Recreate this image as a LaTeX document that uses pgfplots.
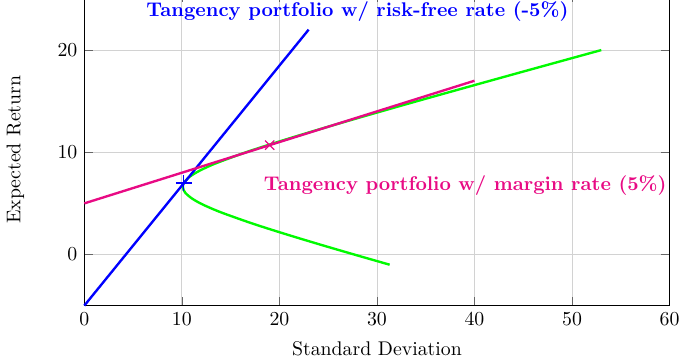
\documentclass[border=0pt]{standalone}
\usepackage{pgfplots}
\pgfplotsset{compat=1.18}
\definecolor{myblue}{RGB}{0,0,255}
\definecolor{mygreen}{RGB}{0,250,0}
\definecolor{mymag}{RGB}{232,10,132}
\begin{document}
\begin{tikzpicture}
\begin{axis}[
  width=295.7pt, height=157.5pt, scale only axis,
  xmin=0, xmax=60, ymin=-5, ymax=25.5,
  xtick={0,10,...,60}, ytick={0,10,20},
  grid=major, major grid style={gray!35},
  xlabel={Standard Deviation}, ylabel={Expected Return},
  ylabel style={yshift=10pt},
  xlabel style={yshift=-1.5pt},
  axis line style={black}, tick style={black!60},
  clip=false,
]
\addplot[mygreen, very thick, smooth] coordinates {
(31.30,-1) (27.65,0) (24.07,1) (20.61,2) (17.32,3) (14.35,4) (13.04,4.5) (11.90,5) (11.00,5.5) (10.38,6) (10.18,6.3) (10.10,6.62) (10.21,7) (10.66,7.5) (11.44,8) (12.47,8.5) (13.70,9) (16.57,10) (19.80,11) (23.23,12) (26.78,13) (30.42,14) (34.11,15) (37.85,16) (41.61,17) (45.39,18) (49.19,19) (53.00,20)
};
\addplot[myblue, very thick] coordinates {(0,-5) (23,22)};
\addplot[mymag, very thick] coordinates {(0,5) (40,17)};
\addplot[myblue, only marks, mark=+, mark size=4pt, semithick] coordinates {(10.2,7.0)};
\addplot[mymag, only marks, mark=x, mark size=3.3pt, semithick] coordinates {(19.0,10.7)};
\node[text=myblue, font=\bfseries] at (axis cs:28.0,23.8) {Tangency portfolio w/ risk-free rate (-5\%)};
\node[text=mymag, font=\bfseries] at (axis cs:39.05,6.76) {Tangency portfolio w/ margin rate (5\%)};
\coordinate (topcut) at (axis cs:60,24.9);
\end{axis}
\coordinate (tr) at (topcut -| current axis.outer east);
\pgfresetboundingbox
\path[use as bounding box] ([yshift=-0.5pt]current axis.outer south west) rectangle ([xshift=2pt]tr);
\end{tikzpicture}
\end{document}
